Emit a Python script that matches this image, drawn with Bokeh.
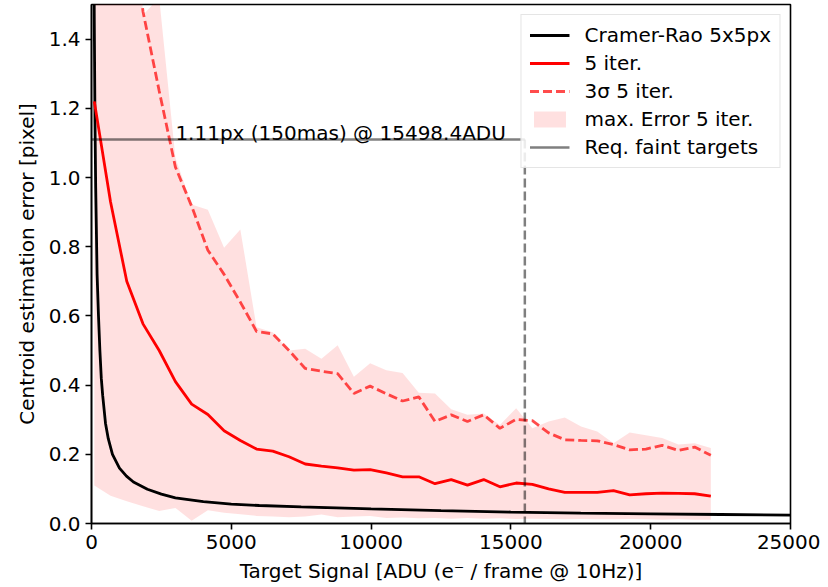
from bokeh.plotting import figure
from bokeh.models import Legend, LegendItem, FixedTicker, NumeralTickFormatter, Range1d
from bokeh.core.properties import value
from bokeh.embed import file_html
from bokeh.resources import INLINE

# ---- data ----
signal = [100, 680, 1261, 1841, 2421, 3002, 3582, 4162, 4742, 5323, 5903, 6483, 7064,
          7644, 8224, 8804, 9385, 9965, 10545, 11126, 11706, 12286, 12866, 13447, 14027,
          14607, 15188, 15768, 16348, 16928, 17509, 18089, 18669, 19250, 19830, 20410,
          20990, 21571, 22151]
iter5 = [1.22, 0.93, 0.70, 0.577, 0.50, 0.41, 0.345, 0.315, 0.268, 0.24, 0.215, 0.209, 0.193,
         0.172, 0.166, 0.161, 0.154, 0.156, 0.146, 0.135, 0.135, 0.115, 0.127, 0.111, 0.127,
         0.106, 0.117, 0.113, 0.100, 0.090, 0.090, 0.090, 0.095, 0.083, 0.086, 0.088,
         0.087, 0.086, 0.079]
sigma3_iter5 = [3.4, 2.5, 1.9, 1.48, 1.25, 1.03, 0.917, 0.79, 0.72, 0.64, 0.555, 0.548, 0.50,
                0.448, 0.44, 0.433, 0.376, 0.397, 0.375, 0.354, 0.366, 0.295, 0.314, 0.295, 0.314,
                0.275, 0.301, 0.297, 0.262, 0.242, 0.24, 0.239, 0.228, 0.213, 0.215, 0.226,
                0.211, 0.221, 0.197]
max_err_upper = [4.0, 3.0, 2.4, 1.47, 1.52, 1.056, 0.922, 0.907, 0.797, 0.85, 0.567, 0.553, 0.50,
                 0.505, 0.476, 0.515, 0.424, 0.463, 0.443, 0.435, 0.378, 0.376, 0.33, 0.314, 0.318,
                 0.285, 0.333, 0.275, 0.295, 0.306, 0.28, 0.266, 0.232, 0.263, 0.255, 0.247,
                 0.228, 0.232, 0.218]
max_err_lower = [0.11, 0.08, 0.064, 0.05, 0.036, 0.045, 0.008, 0.038, 0.031, 0.027, 0.022, 0.02, 0.018,
                 0.02, 0.026, 0.018, 0.02, 0.022, 0.016, 0.017, 0.015, 0.016, 0.014, 0.016, 0.014,
                 0.015, 0.013, 0.014, 0.013, 0.012, 0.013, 0.012, 0.012, 0.013, 0.012, 0.011,
                 0.012, 0.011, 0.011]

cr_signal = [80, 100, 125, 150, 200, 250, 300, 350, 400, 500, 600, 750, 1000, 1250, 1500,
             2000, 2500, 3000, 4000, 5000, 6000, 7500, 10000, 12500, 15000, 17500, 20000,
             22500, 25000]
cr_error = [1.75, 1.45, 1.16, 0.97, 0.72, 0.60, 0.50, 0.42, 0.37, 0.29, 0.245, 0.20, 0.16,
            0.137, 0.12, 0.099, 0.085, 0.074, 0.063, 0.056, 0.052, 0.048, 0.042, 0.037,
            0.033, 0.030, 0.028, 0.026, 0.024]

req_level = 1.11
req_signal = 15498.4
label_x = 3000

x_ticks = [0, 5000, 10000, 15000, 20000, 25000]
y_ticks = [0.0, 0.2, 0.4, 0.6, 0.8, 1.0, 1.2, 1.4]

FONT = "DejaVu Sans"
FS = "20px"

p = figure(width=820, height=585, output_backend="svg", toolbar_location=None,
           x_range=Range1d(0, 25000), y_range=Range1d(0, 1.5),
           min_border_left=91, min_border_right=30, min_border_top=4, min_border_bottom=50)

p.xgrid.visible = False
p.ygrid.visible = False
p.outline_line_color = "black"
p.outline_line_width = 1.6
p.background_fill_color = "white"
p.border_fill_color = "white"

for ax in (p.xaxis[0], p.yaxis[0]):
    ax.axis_line_color = "black"
    ax.axis_line_width = 1.6
    ax.major_tick_line_color = "black"
    ax.major_tick_line_width = 1.6
    ax.major_tick_out = 6
    ax.major_tick_in = 0
    ax.minor_tick_line_color = None
    ax.major_label_text_font = FONT
    ax.major_label_text_font_size = FS
    ax.major_label_text_color = "black"
    ax.axis_label_text_font = FONT
    ax.axis_label_text_font_size = FS
    ax.axis_label_text_font_style = "normal"
    ax.axis_label_text_color = "black"
    ax.major_label_standoff = 5
    ax.axis_label_standoff = 7

p.xaxis.ticker = FixedTicker(ticks=x_ticks)
p.yaxis.ticker = FixedTicker(ticks=y_ticks)
p.yaxis.formatter = NumeralTickFormatter(format="0.0")
p.xaxis.axis_label = "Target Signal [ADU (e\u207b / frame @ 10Hz)]"
p.yaxis.axis_label = "Centroid estimation error [pixel]"

band = p.varea(x=signal, y1=max_err_lower, y2=max_err_upper, fill_color="#ff0000", fill_alpha=0.12)
cr = p.line(cr_signal, cr_error, line_color="black", line_width=2.8)
it = p.line(signal, iter5, line_color="#ff0000", line_width=2.8)
s3 = p.line(signal, sigma3_iter5, line_color="#ff0000", line_alpha=0.7, line_width=2.8, line_dash="9 4")
req = p.line([0, req_signal], [req_level, req_level], line_color="black", line_alpha=0.5, line_width=2.5)
p.line([req_signal, req_signal], [req_level, 0], line_color="black", line_alpha=0.5, line_width=2.5,
       line_dash="9 4")

p.text(x=[label_x], y=[req_level + 0.018],
       text=[f"{req_level}px (150mas) @ {req_signal}ADU"],
       text_font=value(FONT), text_font_size=FS, text_color="black",
       text_baseline="alphabetic", text_align="left")

legend = Legend(items=[
    LegendItem(label="Cramer-Rao 5x5px", renderers=[cr]),
    LegendItem(label="5 iter.", renderers=[it]),
    LegendItem(label="3\u03c3 5 iter.", renderers=[s3]),
    LegendItem(label="max. Error 5 iter.", renderers=[band]),
    LegendItem(label="Req. faint targets", renderers=[req]),
], location="top_right")
legend.label_text_font = FONT
legend.label_text_font_size = FS
legend.label_text_color = "black"
legend.glyph_width = 40
legend.glyph_height = 20
legend.label_height = 20
legend.label_standoff = 15
legend.spacing = 4
legend.padding = 8
legend.margin = 10
legend.border_line_color = "#cccccc"
legend.border_line_width = 1.2
legend.background_fill_alpha = 0.85
p.add_layout(legend)

open("out.html", "w").write(file_html(p, INLINE))
